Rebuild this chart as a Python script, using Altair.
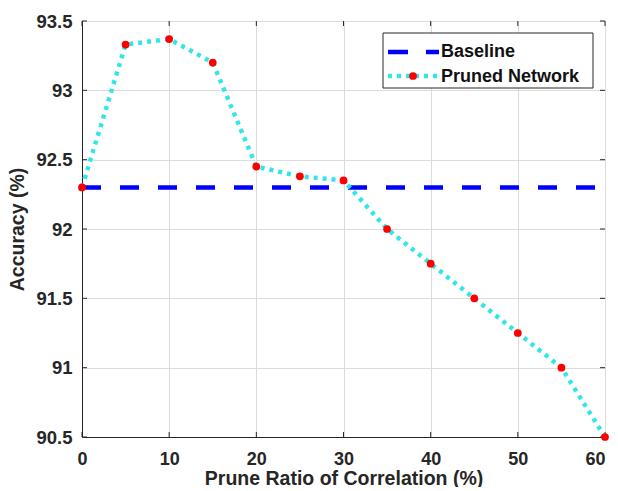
import altair as alt
import pandas as pd

# Data
ratios = [0, 5, 10, 15, 20, 25, 30, 35, 40, 45, 50, 55, 60]
accuracy = [92.30, 93.33, 93.37, 93.20, 92.45, 92.38, 92.35, 92.00, 91.75, 91.50, 91.25, 91.00, 90.50]
baseline_value = 92.30
x_ticks = [0, 10, 20, 30, 40, 50, 60]
y_ticks = [90.5, 91, 91.5, 92, 92.5, 93, 93.5]
series_names = ["Baseline", "Pruned Network"]

df = pd.DataFrame({"ratio": ratios, "acc": accuracy})
base_df = pd.DataFrame({"ratio": [x_ticks[0], x_ticks[-1]], "acc": [baseline_value, baseline_value]})
xt_df = pd.DataFrame({"t": x_ticks})
yt_df = pd.DataFrame({"t": y_ticks})
one = pd.DataFrame({"a": [0]})

W, H = 523, 416
FONT = "Liberation Sans"
AX = "#262626"
TL = 5
xs = alt.Scale(domain=[0, 60], nice=False)
ys = alt.Scale(domain=[90.5, 93.5], nice=False, zero=False)

x_axis = alt.Axis(values=x_ticks, title="Prune Ratio of Correlation (%)", grid=True, ticks=False,
                  labelPadding=13, titlePadding=1, labelFontSize=18, titleFontSize=19.5,
                  labelFontWeight="bold", titleFontWeight="bold", labelFont=FONT, titleFont=FONT,
                  labelColor=AX, titleColor=AX, domainColor=AX,
                  labelAlign={"condition": {"test": "datum.value >= 60", "value": "right"}, "value": "center"},
                  gridColor="#dcdcdc", labelFlush=False)
y_axis = alt.Axis(values=y_ticks, title="Accuracy (%)", grid=True, ticks=False, format="~f",
                  labelPadding=10, titlePadding=8, labelFontSize=18.5, titleFontSize=19.5,
                  labelFontWeight="bold", titleFontWeight="bold", labelFont=FONT, titleFont=FONT,
                  labelColor=AX, titleColor=AX, domainColor=AX,
                  gridColor="#dcdcdc", labelFlush=False)

baseline = alt.Chart(base_df).mark_line(color="#0000ff", strokeWidth=4.5, strokeDash=[19, 19]).encode(
    x=alt.X("ratio:Q", scale=xs, axis=x_axis),
    y=alt.Y("acc:Q", scale=ys, axis=y_axis),
)
pruned_line = alt.Chart(df).mark_line(color="#33e6e6", strokeWidth=4.5, strokeDash=[4, 5], strokeCap="butt").encode(
    x=alt.X("ratio:Q", scale=xs),
    y=alt.Y("acc:Q", scale=ys),
)
pruned_pts = alt.Chart(df).mark_circle(color="#ff0000", size=60, opacity=1).encode(
    x=alt.X("ratio:Q", scale=xs),
    y=alt.Y("acc:Q", scale=ys),
)

# inward ticks (MATLAB style) on all four sides
xt_bot = alt.Chart(xt_df).mark_rule(color=AX, strokeWidth=1).encode(
    x=alt.X("t:Q", scale=xs), y=alt.value(H), y2=alt.value(H - TL))
xt_top = alt.Chart(xt_df).mark_rule(color=AX, strokeWidth=1).encode(
    x=alt.X("t:Q", scale=xs), y=alt.value(0), y2=alt.value(TL))
yt_left = alt.Chart(yt_df).mark_rule(color=AX, strokeWidth=1).encode(
    y=alt.Y("t:Q", scale=ys), x=alt.value(0), x2=alt.value(TL))
yt_right = alt.Chart(yt_df).mark_rule(color=AX, strokeWidth=1).encode(
    y=alt.Y("t:Q", scale=ys), x=alt.value(W), x2=alt.value(W - TL))

# legend
leg_box = alt.Chart(one).mark_rect(fill="white", stroke=AX, strokeWidth=1).encode(
    x=alt.value(301), x2=alt.value(511), y=alt.value(12), y2=alt.value(67))
leg_l1 = alt.Chart(one).mark_rule(color="#0000ff", strokeWidth=4.5, strokeDash=[20, 18]).encode(
    x=alt.value(306), x2=alt.value(357), y=alt.value(31))
leg_l2 = alt.Chart(one).mark_rule(color="#33e6e6", strokeWidth=4.5, strokeDash=[4, 5]).encode(
    x=alt.value(306), x2=alt.value(357), y=alt.value(55))
leg_pt = alt.Chart(one).mark_circle(color="#ff0000", size=60, opacity=1).encode(
    x=alt.value(331), y=alt.value(55))
leg_t1 = alt.Chart(one).mark_text(align="left", baseline="middle", font=FONT, fontSize=18,
                                  fontWeight="bold", color="#111").encode(
    x=alt.value(359), y=alt.value(31), text=alt.value(series_names[0]))
leg_t2 = alt.Chart(one).mark_text(align="left", baseline="middle", font=FONT, fontSize=18,
                                  fontWeight="bold", color="#111").encode(
    x=alt.value(359), y=alt.value(56), text=alt.value(series_names[1]))

chart = alt.layer(baseline, xt_bot, xt_top, yt_left, yt_right, pruned_line, pruned_pts,
                  leg_box, leg_l1, leg_l2, leg_pt, leg_t1, leg_t2).properties(
    width=W, height=H,
    autosize=alt.AutoSizeParams(type="none"),
    padding={"left": 74, "top": 13, "right": 5, "bottom": 50},
).configure_view(stroke=AX, strokeWidth=1).configure(background="white")

chart.save("out.html", embed_options={"renderer": "svg", "actions": False})
